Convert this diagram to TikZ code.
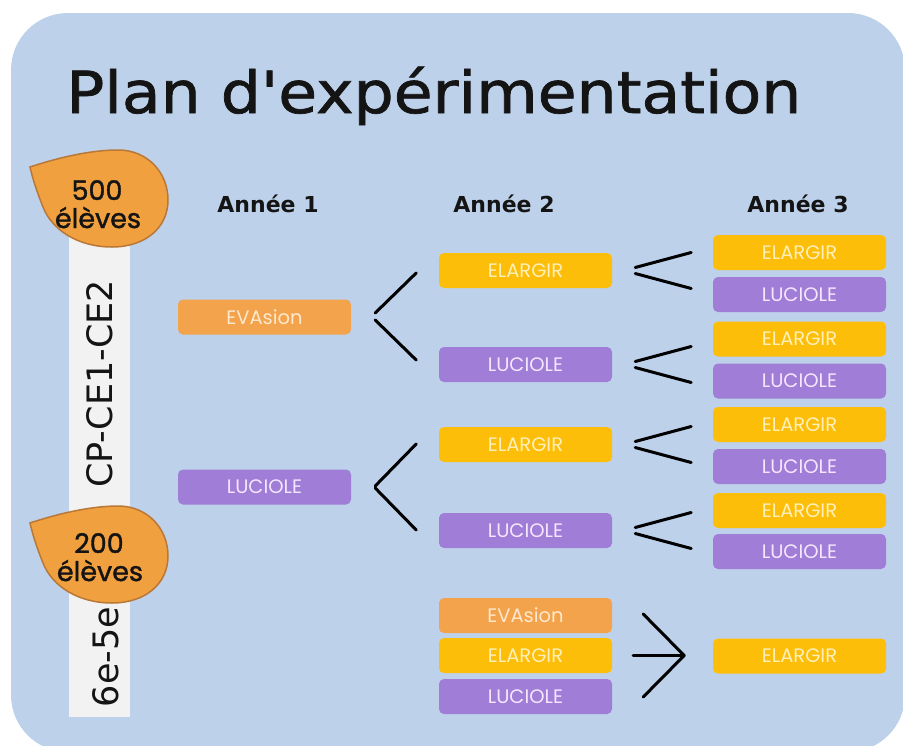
\documentclass[tikz,border=0pt]{standalone}
\usepackage{fontspec}
\newfontfamily\dejavu{DejaVu Sans}
\newfontfamily\titlefont{DejaVu Sans}[FakeBold=1.2]
\newfontfamily\popfont{Poppins}
\newfontfamily\popmed{Poppins}[FakeBold=1.4]
\usetikzlibrary{calc}
\definecolor{bgblue}{RGB}{190,209,234}
\definecolor{barfill}{RGB}{242,242,242}
\definecolor{evaor}{RGB}{243,163,75}
\definecolor{elay}{RGB}{253,190,10}
\definecolor{lucp}{RGB}{160,125,214}
\definecolor{blobfill}{RGB}{240,160,62}
\definecolor{blobedge}{RGB}{185,120,55}
\definecolor{evatxt}{RGB}{255,232,205}
\definecolor{elatxt}{RGB}{255,240,185}
\definecolor{luctxt}{RGB}{245,230,255}
\definecolor{inktxt}{RGB}{20,20,20}
\begin{document}
\begin{tikzpicture}[x=1pt,y=-1pt,
  yearbox/.style={rounded corners=5pt, minimum width=173pt, minimum height=35pt, inner sep=0pt, font=\popfont\fontsize{19.5}{19.5}\selectfont},
  eva/.style={yearbox, fill=evaor, text=evatxt},
  ela/.style={yearbox, fill=elay, text=elatxt},
  luc/.style={yearbox, fill=lucp, text=luctxt},
  bracket/.style={line width=3pt, line cap=round, line join=round},
  header/.style={font=\dejavu\bfseries\fontsize{22}{22}\selectfont, anchor=base, inner sep=0pt, text=inktxt},
  blob/.style={fill=blobfill, draw=blobedge, line width=1.5pt},
  blobtxt/.style={font=\popmed\fontsize{27}{27}\selectfont, anchor=base, inner sep=0pt, text=inktxt},
  level/.style={font=\dejavu\fontsize{35}{35}\selectfont, rotate=90, anchor=base, inner sep=0pt, text=inktxt}
]
\useasboundingbox (0,0) rectangle (903,745);
\fill[white] (0,0) rectangle (903,745);
\fill[bgblue, rounded corners=57pt] (11,13) rectangle (905,752);

% title
\node[anchor=base west, inner sep=0pt, text=inktxt, font=\titlefont\fontsize{58}{58}\selectfont] (title) at (66,113) {\scalebox{1.09}[1]{Plan d'expérimentation}};

% grade bar
\fill[barfill] (69,235) rectangle (130,717);
\node[level] (cp) at (112,384) {CP-CE1-CE2};
\node[level] (six) at (118,657) {6e-5e};

% blobs
\path[blob] (30,167) .. controls (60,157) and (92,150) .. (118,150) .. controls (148,150) and (168,173) .. (168,200) .. controls (168,228) and (145,247) .. (112,247) .. controls (78,247) and (52,230) .. (43,207) .. controls (37,192) and (33,180) .. (30,167) -- cycle;
\node[blobtxt] (n500) at (97,200) {500};
\node[blobtxt] (e500) at (98,228) {élèves};
\begin{scope}[shift={(0,356)}]
\path[blob] (30,167) .. controls (60,157) and (92,150) .. (118,150) .. controls (148,150) and (168,173) .. (168,200) .. controls (168,228) and (145,247) .. (112,247) .. controls (78,247) and (52,230) .. (43,207) .. controls (37,192) and (33,180) .. (30,167) -- cycle;
\end{scope}
\node[blobtxt] (n200) at (99,553) {200};
\node[blobtxt] (e200) at (100,581) {élèves};

% headers
\node[header] (h1) at (268,212) {Année 1};
\node[header] (h2) at (504,212) {Année 2};
\node[header] (h3) at (798,212) {Année 3};

% year 1
\node[eva] (a1) at (264.5,317) {EVAsion};
\node[luc] (a2) at (264.5,487) {LUCIOLE};

% year 2
\node[ela] (b1) at (525.5,270.5) {ELARGIR};
\node[luc] (b2) at (525.5,364.5) {LUCIOLE};
\node[ela] (b3) at (525.5,444.5) {ELARGIR};
\node[luc] (b4) at (525.5,530.5) {LUCIOLE};
\node[eva] (b5) at (525.5,615.5) {EVAsion};
\node[ela] (b6) at (525.5,655.5) {ELARGIR};
\node[luc] (b7) at (525.5,696.5) {LUCIOLE};

% year 3
\node[ela] (c1) at (799.5,252.5) {ELARGIR};
\node[luc] (c2) at (799.5,294.5) {LUCIOLE};
\node[ela] (c3) at (799.5,339) {ELARGIR};
\node[luc] (c4) at (799.5,381) {LUCIOLE};
\node[ela] (c5) at (799.5,424.5) {ELARGIR};
\node[luc] (c6) at (799.5,466.5) {LUCIOLE};
\node[ela] (c7) at (799.5,510.5) {ELARGIR};
\node[luc] (c8) at (799.5,551.5) {LUCIOLE};
\node[ela] (c9) at (799.5,656) {ELARGIR};

% year 1 -> year 2 brackets
\draw[bracket] ($(a1.east)+(65,-44)$) -- ($(a1.east)+(24,-4)$);
\draw[bracket] ($(a1.east)+(24,3)$) -- ($(a1.east)+(65,43)$);
\draw[bracket] ($(a2.east)+(65,-43)$) -- ($(a2.east)+(24,-1)$);
\draw[bracket] ($(a2.east)+(24,1)$) -- ($(a2.east)+(65,43)$);

% year 2 -> year 3 brackets
\foreach \b in {b1,b2,b3,b4}{
  \draw[bracket] ($(\b.east)+(79,-18)$) -- ($(\b.east)+(23,-3)$);
  \draw[bracket] ($(\b.east)+(23,3)$) -- ($(\b.east)+(79,18)$);
}

% merge arrow
\draw[bracket] ($(b6.east)+(31,-41.5)$) -- ($(b6.east)+(72,0)$) -- ($(b6.east)+(31,41.5)$);
\draw[bracket] ($(b6.east)+(21,0)$) -- ($(b6.east)+(72,0)$);
\end{tikzpicture}
\end{document}
